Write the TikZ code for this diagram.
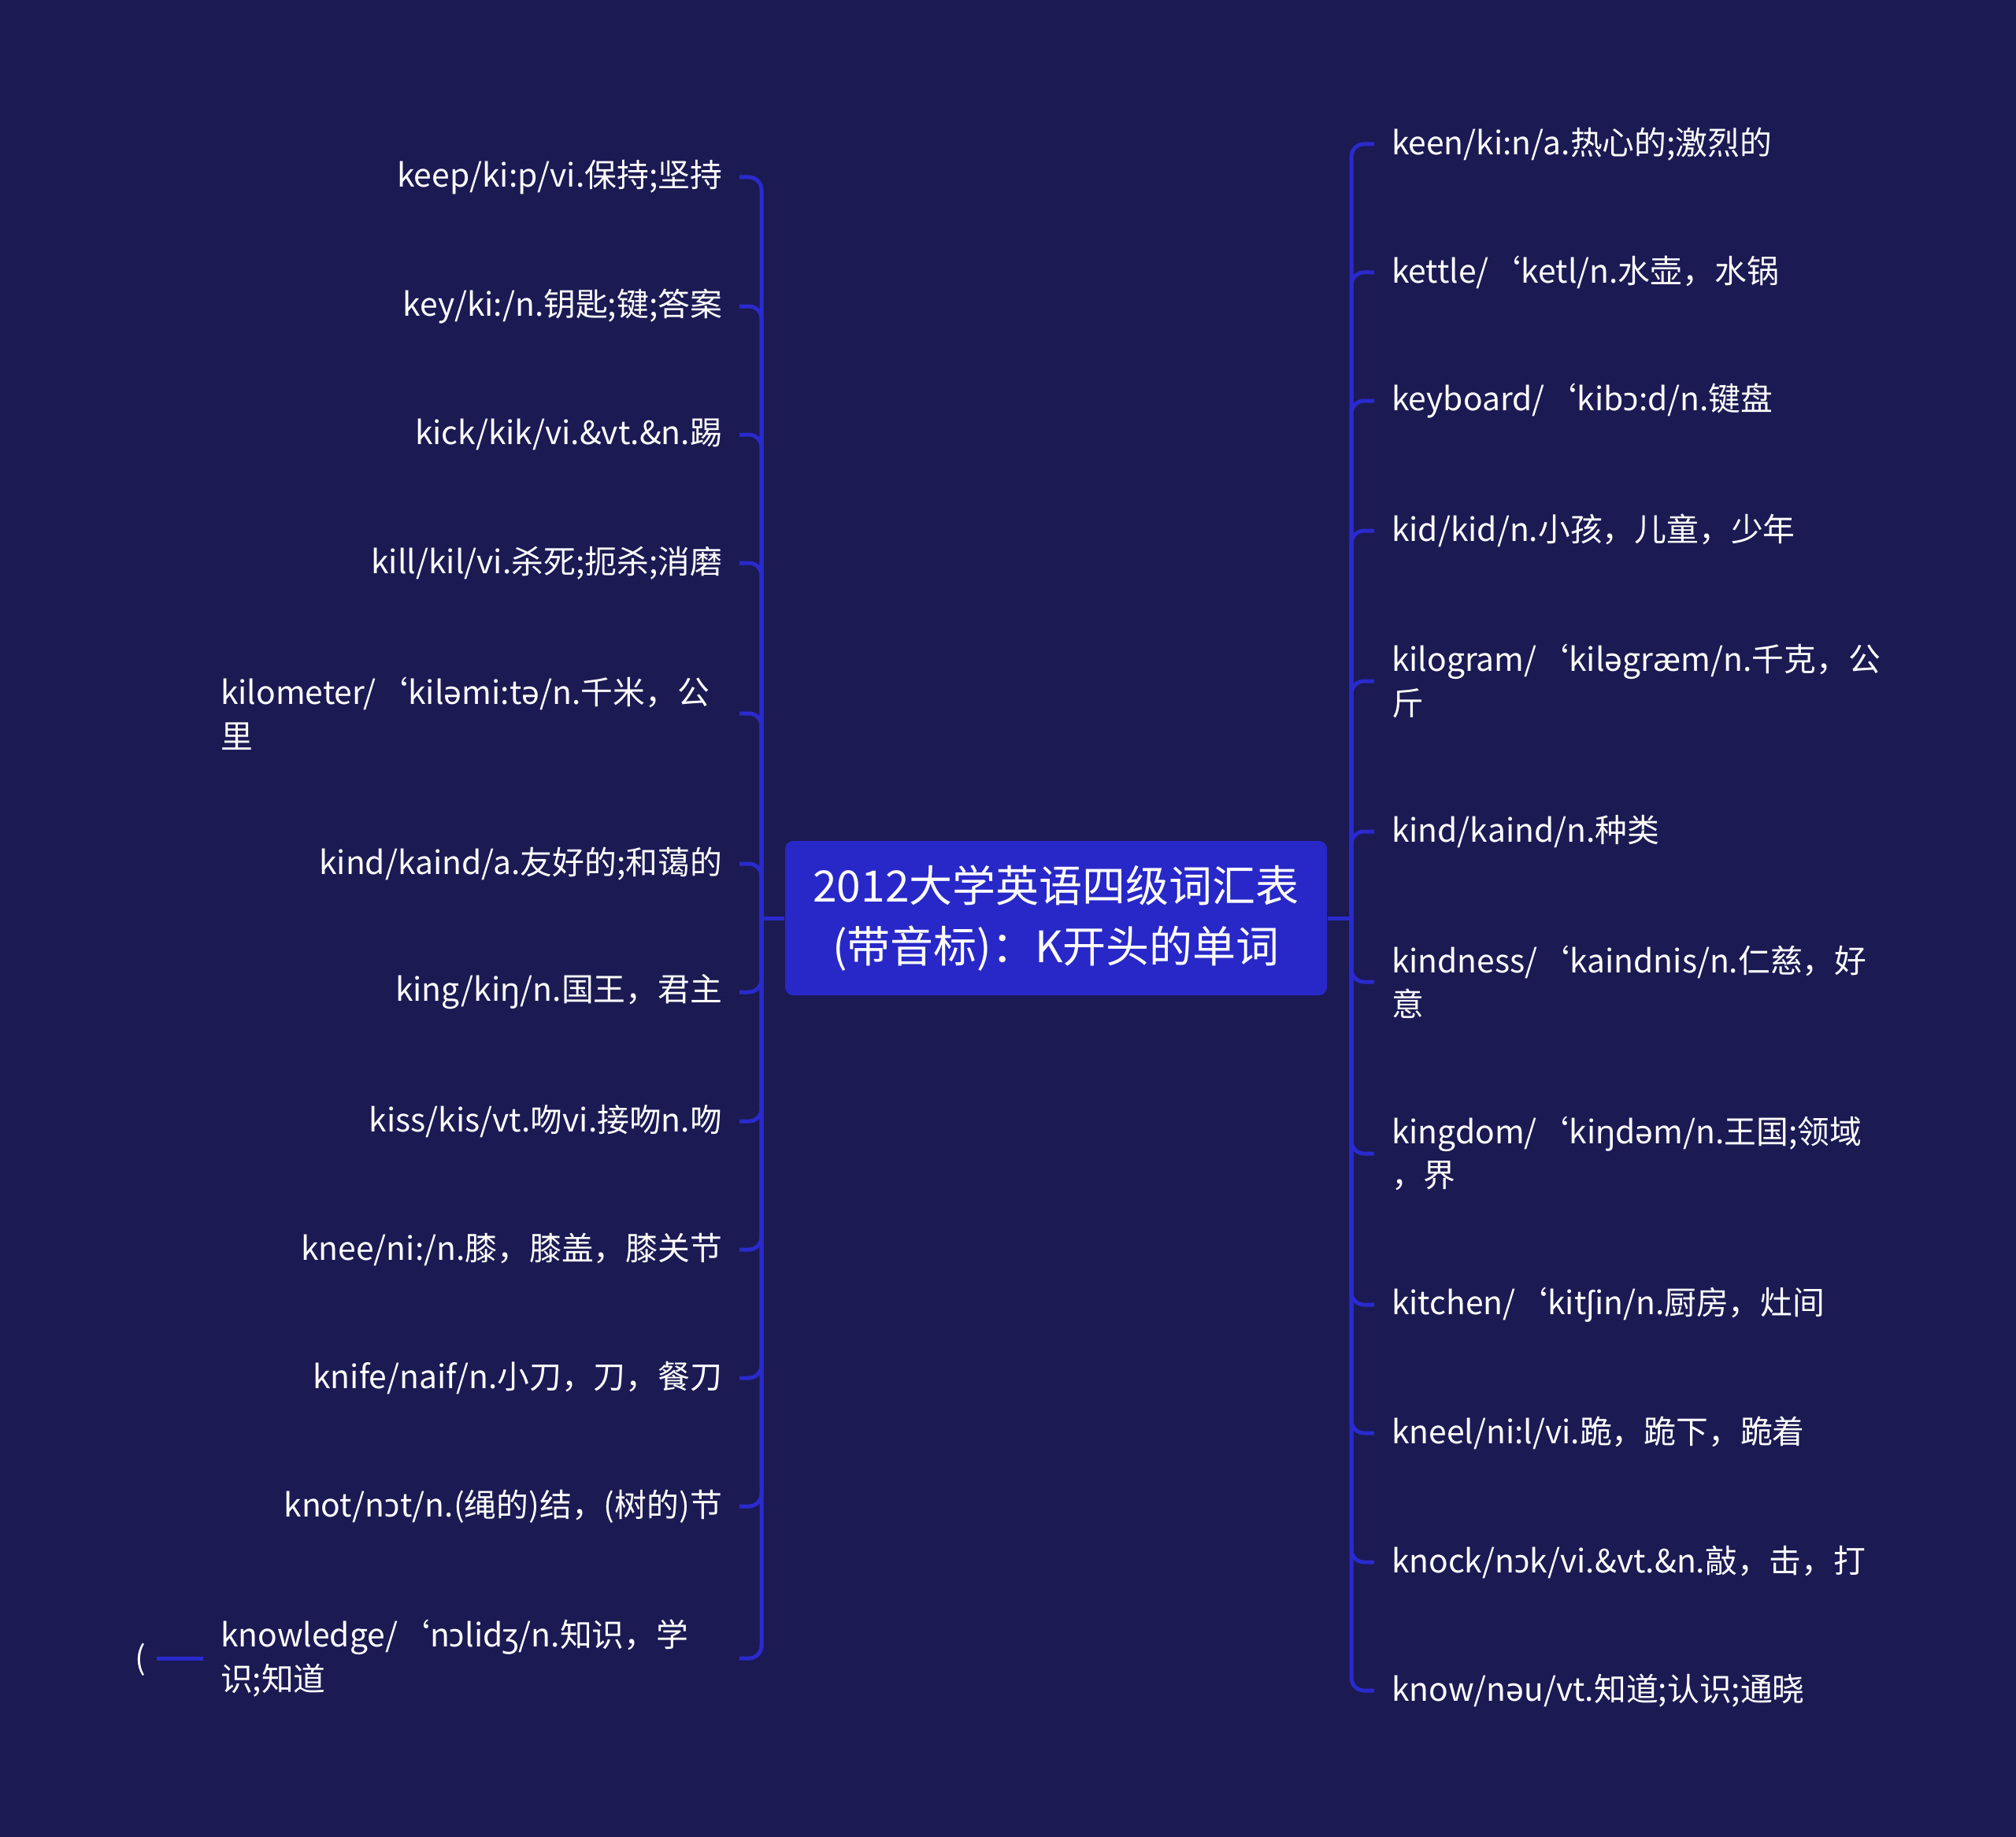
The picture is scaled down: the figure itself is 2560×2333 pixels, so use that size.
\documentclass[tikz,border=0pt]{standalone}
\usepackage{fontspec}
\setmainfont{Noto Sans CJK SC}
\newfontfamily\ipafont{Noto Sans}
\newcommand{\ip}[1]{{\ipafont #1}}
\definecolor{bgc}{RGB}{27,26,83}
\definecolor{boxc}{RGB}{40,40,200}
\definecolor{linec}{RGB}{42,42,205}
\begin{document}
\begin{tikzpicture}[x=0.25pt,y=-0.25pt,
  root/.style={fill=boxc, rounded corners=2.5pt, minimum width=172pt, minimum height=49pt,
    align=center, text=white, inner sep=0pt, font=\fontsize{13.75pt}{19.25pt}\selectfont},
  leaf/.style={text=white, inner sep=0pt, outer xsep=5.5pt, font=\fontsize{10.2pt}{13.9pt}\selectfont},
  lleaf/.style={leaf, anchor=east},
  rleaf/.style={leaf, anchor=west, align=left},
  lmulti/.style={lleaf, text width=159.25pt, align=left},
  conn/.style={draw=linec, line width=1.25pt},
  hook/.style={conn, rounded corners=4pt}]
\fill[bgc] (0,0) rectangle (2560,2333);
\useasboundingbox (0,0) rectangle (2560,2333);

\node[root] (root) at (1341,1166) {2012大学英语四级词汇表\\(带音标)：K开头的单词};
\coordinate (ls) at (967,1166);
\coordinate (rs) at (1716,1166);
\draw[conn] (root.west) -- (ls);
\draw[conn] (root.east) -- (rs);

% left
\node[lleaf] (l1) at (939,225) {keep/ki:p/vi.保持;坚持};
\node[lleaf] (l2) at (939,389) {key/ki:/n.钥匙;键;答案};
\node[lleaf] (l3) at (939,552) {kick/kik/vi.\&vt.\&n.踢};
\node[lleaf] (l4) at (939,715) {kill/kil/vi.杀死;扼杀;消磨};
\node[lmulti] (l5) at (939,906) {kilometer/‘kil\ip{ə}mi:t\ip{ə}/n.千米，公\\里};
\node[lleaf] (l6) at (939,1097) {kind/kaind/a.友好的;和蔼的};
\node[lleaf] (l7) at (939,1260) {king/ki\ip{ŋ}/n.国王，君主};
\node[lleaf] (l8) at (939,1424) {kiss/kis/vt.吻vi.接吻n.吻};
\node[lleaf] (l9) at (939,1587) {knee/ni:/n.膝，膝盖，膝关节};
\node[lleaf] (l10) at (939,1750) {knife/naif/n.小刀，刀，餐刀};
\node[lleaf] (l11) at (939,1913) {knot/n\ip{ɔ}t/n.(绳的)结，(树的)节};
\node[lmulti] (l12) at (939,2106) {knowledge/‘n\ip{ɔ}lid\ip{ʒ}/n.知识，学\\识;知道};
\foreach \i in {1,...,12} {\draw[hook] (ls) |- (l\i.east);}
\coordinate (lx) at (199,2106);
\draw[conn] (l12.west) -- (lx);
\node[leaf, anchor=center, outer xsep=0pt] (paren) at (178,2108) {(};

% right
\node[rleaf] (r1) at (1745,183) {keen/ki:n/a.热心的;激烈的};
\node[rleaf] (r2) at (1745,346) {kettle/‘ketl/n.水壶，水锅};
\node[rleaf] (r3) at (1745,509) {keyboard/‘kib\ip{ɔ}:d/n.键盘};
\node[rleaf] (r4) at (1745,674) {kid/kid/n.小孩，儿童，少年};
\node[rleaf] (r5) at (1745,865) {kilogram/‘kil\ip{ə}gr\ip{æ}m/n.千克，公\\斤};
\node[rleaf] (r6) at (1745,1056) {kind/kaind/n.种类};
\node[rleaf] (r7) at (1745,1247) {kindness/‘kaindnis/n.仁慈，好\\意};
\node[rleaf] (r8) at (1745,1465) {kingdom/‘ki\ip{ŋ}d\ip{ə}m/n.王国;领域\\，界};
\node[rleaf] (r9) at (1745,1657) {kitchen/‘kit\ip{ʃ}in/n.厨房，灶间};
\node[rleaf] (r10) at (1745,1820) {kneel/ni:l/vi.跪，跪下，跪着};
\node[rleaf] (r11) at (1745,1984) {knock/n\ip{ɔ}k/vi.\&vt.\&n.敲，击，打};
\node[rleaf] (r12) at (1745,2147) {know/n\ip{ə}u/vt.知道;认识;通晓};
\foreach \i in {1,...,12} {\draw[hook] (rs) |- (r\i.west);}
\end{tikzpicture}
\end{document}
